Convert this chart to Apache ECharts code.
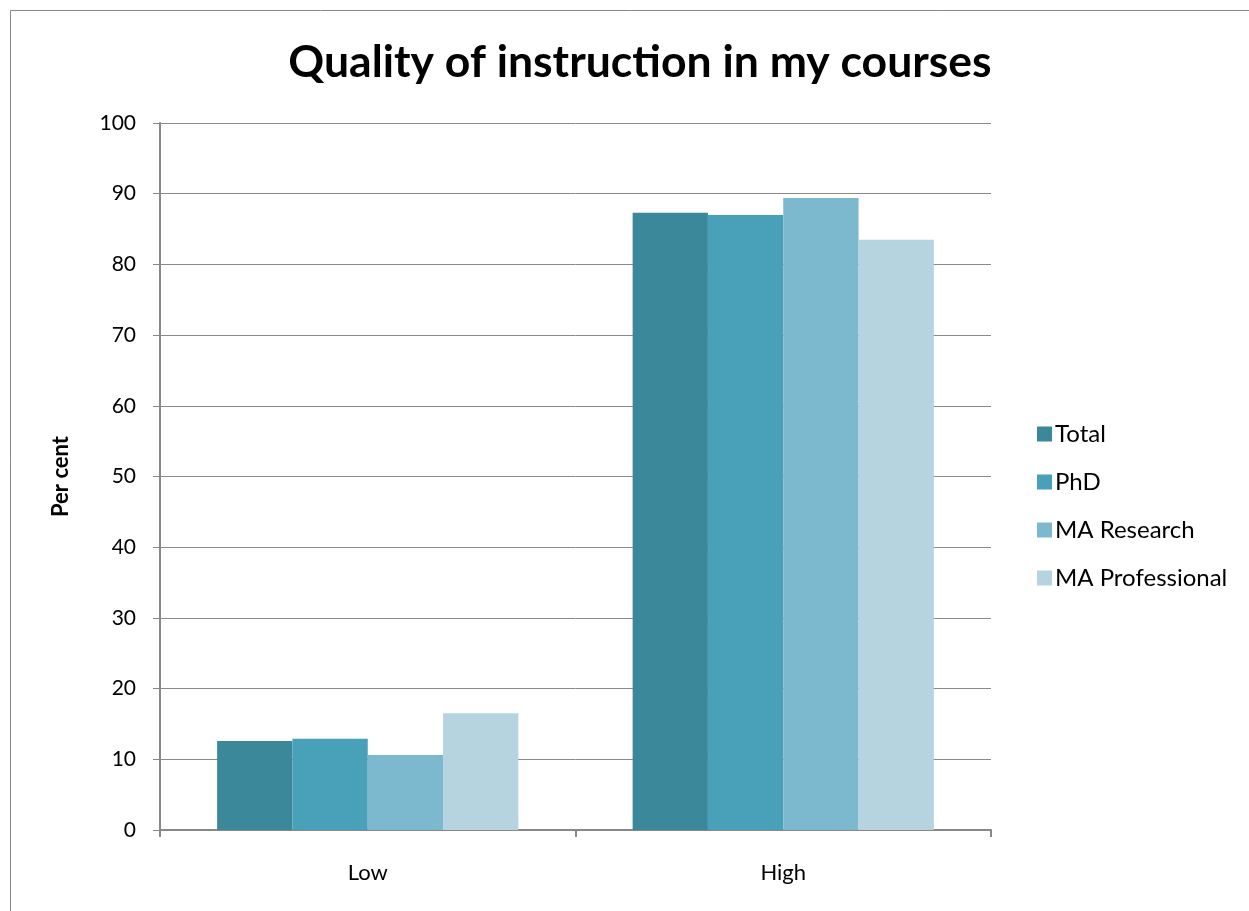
<!DOCTYPE html>
<html>
<head>
<meta charset="utf-8">
<script src="https://cdn.jsdelivr.net/npm/echarts@6/dist/echarts.min.js"></script>
<style>
  html, body { margin: 0; padding: 0; background: #fff; }
  #chart { width: 1249px; height: 911px; }
</style>
</head>
<body>
<div id="chart"></div>
<script>
// categories and series values (per cent)
var categories = ["Low", "High"];
var seriesNames = ["Total", "PhD", "MA Research", "MA Professional"];
var totalValues = [12.6, 87.3];
var phdValues = [12.9, 87.0];
var maResearchValues = [10.6, 89.4];
var maProfessionalValues = [16.5, 83.5];
var yTicks = [0, 10, 20, 30, 40, 50, 60, 70, 80, 90, 100];

var colors = ["#3A8899", "#48A1B9", "#7DB9CE", "#B5D4E0"];
var allValues = [totalValues, phdValues, maResearchValues, maProfessionalValues];

var font = "Lato, 'Open Sans', sans-serif";

var myChart = echarts.init(document.getElementById("chart"));

var series = seriesNames.map(function (name, i) {
  return {
    name: name,
    type: "bar",
    data: allValues[i],
    barGap: "0%",
    barCategoryGap: "27.5%",
    itemStyle: { color: colors[i] }
  };
});

var option = {
  animation: false,
  backgroundColor: "#fff",
  title: {
    text: "Quality of instruction in my courses",
    left: 635,
    top: 35,
    textAlign: "center",
    textStyle: { fontFamily: font, fontSize: 44.5, fontWeight: "bold", color: "#000" }
  },
  graphic: [
    {
      type: "rect",
      shape: { x: 10.5, y: 10.5, width: 1250, height: 920 },
      style: { fill: "none", stroke: "#888", lineWidth: 1 }
    }
  ],
  legend: {
    orient: "vertical",
    left: 1032,
    top: 417,
    itemWidth: 15,
    itemHeight: 15,
    itemGap: 24,
    icon: "rect",
    textStyle: { fontFamily: font, fontSize: 24, lineHeight: 24, color: "#000", padding: [0, 0, 0, -2] },
    data: seriesNames
  },
  grid: { left: 160, right: 258, top: 123, bottom: 81 },
  xAxis: {
    type: "category",
    data: categories,
    axisLine: { lineStyle: { color: "#888", width: 2 } },
    axisTick: { show: true, length: 7, lineStyle: { color: "#888", width: 2 } },
    axisLabel: { fontFamily: font, fontSize: 22, color: "#000", margin: 32 }
  },
  yAxis: {
    type: "value",
    min: yTicks[0],
    max: yTicks[yTicks.length - 1],
    interval: 10,
    name: "Per cent",
    nameLocation: "middle",
    nameGap: 88,
    nameRotate: 90,
    nameTextStyle: { fontFamily: font, fontSize: 22, fontWeight: "bold", color: "#000" },
    axisLine: { show: true, lineStyle: { color: "#888", width: 2 } },
    axisTick: { show: true, length: 7, lineStyle: { color: "#888", width: 1 } },
    axisLabel: { fontFamily: font, fontSize: 21, color: "#000", margin: 24 },
    splitLine: { lineStyle: { color: "#8a8a8a", width: 1 } }
  },
  series: series
};

myChart.setOption(option);
</script>
</body>
</html>
